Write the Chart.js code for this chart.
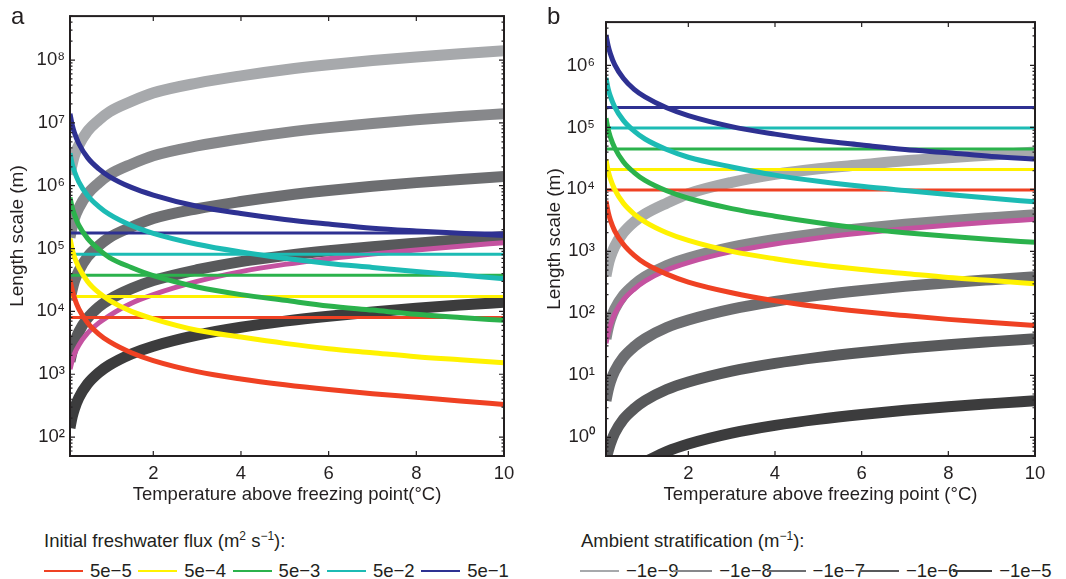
<!DOCTYPE html>
<html>
<head>
<meta charset="utf-8">
<script src="https://cdn.jsdelivr.net/npm/chart.js@4.4.1/dist/chart.umd.min.js"></script>
<style>
  body { margin: 0; background: #fff; font-family: "Liberation Sans", Arial, sans-serif; color: #231f20; }
  #wrap { position: relative; width: 1066px; height: 579px; overflow: hidden; }
  .panel { position: absolute; top: 0; width: 533px; height: 520px; }
  .letter { position: absolute; top: 2px; font-size: 24px; }
  .ltitle, .item { position: absolute; white-space: nowrap; font-size: 18.5px; line-height: 22px; }
  .ltitle sup { font-size: 12px; vertical-align: 7px; line-height: 0; }
  .swatch { position: absolute; top: 10px; left: 0; width: 39px; height: 2px; }
  .item span { position: absolute; left: 46px; top: 0; }
</style>
</head>
<body>
<div id="wrap">
  <div class="panel" style="left:0"><canvas id="chartA" width="533" height="520"></canvas></div>
  <div class="panel" style="left:533px"><canvas id="chartB" width="533" height="520"></canvas></div>
  <div class="letter" style="left:11px">a</div>
  <div class="letter" style="left:547px">b</div>
  <div class="ltitle" style="left:44px;top:530px">Initial freshwater flux (m<sup>2</sup> s<sup>−1</sup>):</div>
  <div class="ltitle" style="left:581px;top:530px">Ambient stratification (m<sup>−1</sup>):</div>
  <div id="legendA"></div>
  <div id="legendB"></div>
</div>
<script>
// temperature above freezing point (°C) sample positions
const temps = [0.1, 0.15, 0.2, 0.3, 0.5, 0.75, 1, 1.5, 2, 3, 4, 5, 6, 7, 8, 9, 10];
const tRange = [0.1, 10];
const xTicks = [2, 4, 6, 8, 10];
const yTicksA = [1e2, 1e3, 1e4, 1e5, 1e6, 1e7, 1e8];
const yTicksB = [1e0, 1e1, 1e2, 1e3, 1e4, 1e5, 1e6];
const yRangeA = [50, 5e8];
const yRangeB = [0.5, 5e6];

const fluxLabels = ["5e−5", "5e−4", "5e−3", "5e−2", "5e−1"];
const stratLabels = ["−1e−9", "−1e−8", "−1e−7", "−1e−6", "−1e−5"];
const fluxColors = ["#ef4123", "#fff200", "#2bb24c", "#1cbbb4", "#2e3192"];
const grayColors = ["#a7a9ac", "#87888b", "#6d6e71", "#58595b", "#3c3c3d"];
const mixColor = "#c452a0";

// panel a : decaying curves (red, yellow, green, cyan, blue)
const redA = [3.2e4, 2.2e4, 1.65e4, 1.1e4, 6.6e3, 4.4e3, 3.3e3, 2.2e3, 1.65e3, 1.1e3, 840, 680, 570, 490, 430, 375, 330];
const yellowA = [1.45e5, 9.8e4, 7.4e4, 5e4, 3e4, 2e4, 1.5e4, 1e4, 7.6e3, 5e3, 3.9e3, 3.1e3, 2.55e3, 2.2e3, 1.9e3, 1.7e3, 1.52e3];
const greenA = [6.5e5, 4.5e5, 3.5e5, 2.35e5, 1.45e5, 9.8e4, 7.2e4, 5e4, 3.7e4, 2.45e4, 1.85e4, 1.5e4, 1.22e4, 1.05e4, 9e3, 8e3, 7.2e3];
const cyanA = [3.3e6, 2.2e6, 1.7e6, 1.15e6, 7e5, 4.7e5, 3.5e5, 2.33e5, 1.75e5, 1.17e5, 8.8e4, 7e4, 5.8e4, 5e4, 4.3e4, 3.8e4, 3.3e4];
const blueA = [1.4e7, 9.3e6, 7e6, 4.7e6, 2.8e6, 1.87e6, 1.4e6, 9.4e5, 7.1e5, 4.7e5, 3.6e5, 2.9e5, 2.45e5, 2.1e5, 1.9e5, 1.75e5, 1.62e5];
// panel a : constant levels
const levelsA = [8e3, 1.73e4, 3.77e4, 8.1e4, 1.77e5];
// panel a : growing curves (light to dark)
const gray1A = [1.5e6, 2.2e6, 3e6, 4.4e6, 7.4e6, 1.1e7, 1.5e7, 2.2e7, 3e7, 4.3e7, 5.6e7, 7e7, 8.4e7, 9.8e7, 1.12e8, 1.26e8, 1.4e8];
const gray2A = [1.5e5, 2.2e5, 3e5, 4.4e5, 7.4e5, 1.1e6, 1.5e6, 2.2e6, 3e6, 4.3e6, 5.6e6, 7e6, 8.4e6, 9.8e6, 1.12e7, 1.26e7, 1.4e7];
const gray3A = [1.5e4, 2.2e4, 3e4, 4.4e4, 7.4e4, 1.1e5, 1.5e5, 2.2e5, 3e5, 4.3e5, 5.6e5, 7e5, 8.4e5, 9.8e5, 1.12e6, 1.26e6, 1.4e6];
const gray4A = [1.6e3, 2.3e3, 3.1e3, 4.7e3, 7.8e3, 1.17e4, 1.55e4, 2.3e4, 3.1e4, 4.6e4, 6.2e4, 7.7e4, 9.2e4, 1.07e5, 1.22e5, 1.38e5, 1.55e5];
const gray5A = [140, 210, 280, 420, 700, 1.05e3, 1.4e3, 2.1e3, 2.8e3, 4.2e3, 5.6e3, 7e3, 8.4e3, 9.8e3, 1.12e4, 1.26e4, 1.4e4];
const mixA = [1.2e3, 1.65e3, 2.1e3, 2.9e3, 4.5e3, 6.5e3, 8.6e3, 1.35e4, 1.85e4, 3e4, 4.3e4, 5.6e4, 6.9e4, 8.2e4, 9.5e4, 1.09e5, 1.24e5];

// panel b
const redB = [6.5e3, 4.3e3, 3.2e3, 2.15e3, 1.3e3, 860, 640, 430, 320, 215, 160, 128, 107, 92, 80, 71, 64];
const yellowB = [3e4, 2e4, 1.5e4, 1e4, 6e3, 4e3, 3e3, 2e3, 1.5e3, 1e3, 760, 610, 510, 440, 380, 340, 300];
const greenB = [1.4e5, 9.3e4, 7e4, 4.7e4, 2.8e4, 1.87e4, 1.4e4, 9.5e3, 7.2e3, 4.9e3, 3.7e3, 2.9e3, 2.35e3, 2e3, 1.75e3, 1.55e3, 1.4e3];
const cyanB = [6.3e5, 4.2e5, 3.2e5, 2.15e5, 1.3e5, 8.7e4, 6.5e4, 4.4e4, 3.3e4, 2.3e4, 1.7e4, 1.35e4, 1.12e4, 9.6e3, 8.3e3, 7.2e3, 6.3e3];
const blueB = [3.1e6, 2.07e6, 1.55e6, 1.03e6, 6.2e5, 4.1e5, 3.1e5, 2.07e5, 1.55e5, 1.03e5, 7.8e4, 6.2e4, 5.2e4, 4.4e4, 3.9e4, 3.4e4, 3.1e4];
const levelsB = [9.8e3, 2.1e4, 4.5e4, 9.8e4, 2.1e5];
const gray1B = [400, 600, 800, 1.2e3, 2e3, 3e3, 4e3, 6e3, 8.5e3, 1.3e4, 1.75e4, 2.15e4, 2.5e4, 2.9e4, 3.25e4, 3.6e4, 4e4];
const gray2B = [39, 58, 78, 117, 195, 290, 390, 590, 780, 1170, 1560, 1950, 2340, 2730, 3120, 3500, 3900];
const gray3B = [3.9, 5.8, 7.8, 11.7, 19.5, 29, 39, 59, 78, 117, 156, 195, 234, 273, 312, 350, 390];
const gray4B = [0.45, 0.6, 0.78, 1.17, 1.95, 2.9, 3.9, 5.9, 7.8, 11.7, 15.6, 19.5, 23.4, 27.3, 31.2, 35, 39];
const gray5B = [null, null, null, null, null, null, 0.4, 0.59, 0.78, 1.17, 1.56, 1.95, 2.34, 2.73, 3.12, 3.5, 3.9];
const mixB = [33, 48, 64, 98, 165, 245, 330, 500, 660, 990, 1320, 1650, 1980, 2310, 2640, 2970, 3300];

const ink = "#231f20";
const font = { family: '"Liberation Sans", Arial, sans-serif', size: 18.5 };
const sup = "⁰¹²³⁴⁵⁶⁷⁸⁹";
const isDecade = (v) => Math.abs(Math.log10(v) - Math.round(Math.log10(v))) < 1e-9;

const points = (vals) =>
  temps.map((t, i) => ({ x: t, y: vals[i] })).filter((p) => p.y !== null);

function curve(vals, color, width, order) {
  return {
    data: points(vals),
    borderColor: color,
    borderWidth: width,
    pointRadius: 0,
    cubicInterpolationMode: "monotone",
    clip: 0,
    order,
  };
}

function level(v, color) {
  return {
    data: tRange.map((t) => ({ x: t, y: v })),
    borderColor: color,
    borderWidth: 3,
    pointRadius: 0,
    clip: 0,
    order: 2,
  };
}

function logTicks([lo, hi]) {
  const out = [];
  for (let e = Math.floor(Math.log10(lo)); e <= Math.ceil(Math.log10(hi)); e++) {
    for (let m = 1; m <= 9; m++) {
      const v = m * Math.pow(10, e);
      if (v >= lo && v <= hi) out.push({ value: v, major: m === 1 });
    }
  }
  return out;
}

// inward tick marks and the box around the plot
const frame = {
  id: "frame",
  afterDatasetsDraw(chart) {
    const { ctx, chartArea: a, scales: { x, y } } = chart;
    ctx.save();
    ctx.strokeStyle = ink;
    ctx.lineWidth = 1.2;
    ctx.beginPath();
    x.ticks.forEach((t) => {
      const px = x.getPixelForValue(t.value);
      ctx.moveTo(px, a.bottom); ctx.lineTo(px, a.bottom - 5);
      ctx.moveTo(px, a.top); ctx.lineTo(px, a.top + 5);
    });
    y.ticks.forEach((t) => {
      const py = y.getPixelForValue(t.value);
      const len = isDecade(t.value) ? 5 : 2.5;
      ctx.moveTo(a.left, py); ctx.lineTo(a.left + len, py);
      ctx.moveTo(a.right, py); ctx.lineTo(a.right - len, py);
    });
    ctx.stroke();
    ctx.lineWidth = 2;
    ctx.strokeRect(a.left, a.top, a.right - a.left, a.bottom - a.top);
    ctx.restore();
  },
};

function makeChart(id, cfg) {
  const datasets = [
    ...cfg.grays.map((g, i) => curve(g, grayColors[i], 11, 5)),
    curve(cfg.mix, mixColor, 5, 3),
    ...cfg.levels.map((v, i) => level(v, fluxColors[i])),
    ...cfg.decays.map((d, i) => curve(d, fluxColors[i], 5, 1)),
  ];
  return new Chart(document.getElementById(id), {
    type: "line",
    data: { datasets },
    plugins: [frame],
    options: {
      responsive: false,
      animation: false,
      events: [],
      layout: { padding: { top: 15, right: cfg.padRight, left: 0, bottom: 0 } },
      plugins: { legend: { display: false }, tooltip: { enabled: false } },
      scales: {
        x: {
          type: "linear",
          min: tRange[0],
          max: tRange[1],
          afterBuildTicks: (s) => { s.ticks = xTicks.map((v) => ({ value: v })); },
          afterFit: (s) => { s.height = 64; },
          grid: { display: false, drawTicks: false },
          border: { display: false },
          ticks: { font, color: ink, padding: 7, maxRotation: 0, autoSkip: false },
          title: { display: true, text: cfg.xTitle, font, color: ink, padding: { top: 0, bottom: 14 } },
        },
        y: {
          type: "logarithmic",
          min: cfg.yRange[0],
          max: cfg.yRange[1],
          afterBuildTicks: (s) => { s.ticks = logTicks(cfg.yRange); },
          afterFit: (s) => { s.width = cfg.yWidth; },
          grid: { display: false, drawTicks: false },
          border: { display: false },
          ticks: {
            font, color: ink, padding: cfg.yPad, autoSkip: false,
            callback: (v) => (isDecade(v) && cfg.yTicks.includes(Math.pow(10, Math.round(Math.log10(v))))
              ? "10" + String(Math.round(Math.log10(v))).split("").map((d) => sup[+d]).join("")
              : ""),
          },
          title: { display: true, text: "Length scale (m)", font: { ...font, size: 19 }, color: ink, padding: { top: cfg.yTitlePad } },
        },
      },
    },
  });
}

makeChart("chartA", {
  grays: [gray1A, gray2A, gray3A, gray4A, gray5A],
  mix: mixA,
  levels: levelsA,
  decays: [redA, yellowA, greenA, cyanA, blueA],
  yRange: yRangeA,
  yTicks: yTicksA,
  xTitle: "Temperature above freezing point(°C)",
  padRight: 29,
  yWidth: 70,
  yPad: 5,
  yTitlePad: 6.5,
});

makeChart("chartB", {
  grays: [gray1B, gray2B, gray3B, gray4B, gray5B],
  mix: mixB,
  levels: levelsB,
  decays: [redB, yellowB, greenB, cyanB, blueB],
  yRange: yRangeB,
  yTicks: yTicksB,
  xTitle: "Temperature above freezing point (°C)",
  padRight: 31,
  yWidth: 73,
  yPad: 11,
  yTitlePad: 10.5,
});

function legend(id, labels, colors, left, pitch) {
  const box = document.getElementById(id);
  labels.forEach((txt, i) => {
    const item = document.createElement("div");
    item.className = "item";
    item.style.left = left + i * pitch + "px";
    item.style.top = "560px";
    item.innerHTML = `<div class="swatch" style="background:${colors[i]}"></div><span>${txt}</span>`;
    box.append(item);
  });
}
legend("legendA", fluxLabels, fluxColors, 44, 94.3);
legend("legendB", stratLabels, grayColors, 580, 93.3);
</script>
</body>
</html>
